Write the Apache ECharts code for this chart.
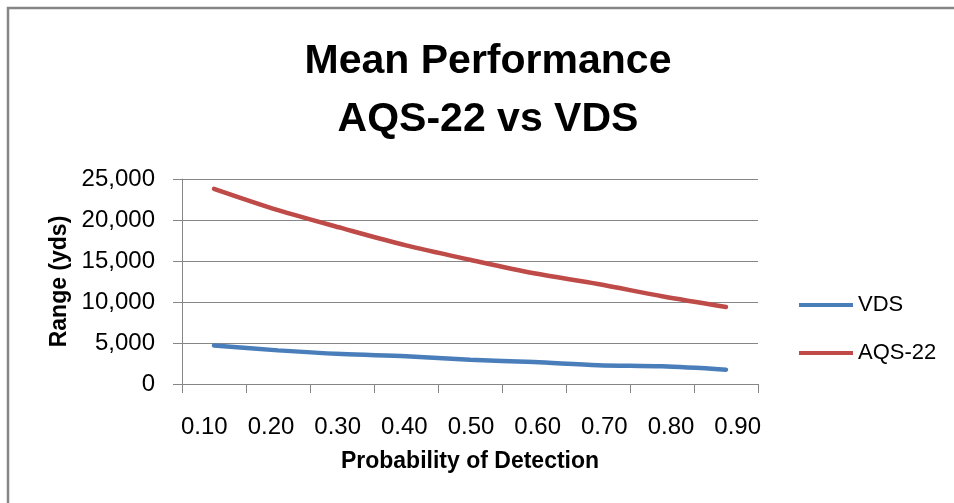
<!DOCTYPE html>
<html>
<head>
<meta charset="utf-8">
<script src="https://cdn.jsdelivr.net/npm/echarts@6/dist/echarts.min.js"></script>
<style>
html,body{margin:0;padding:0;background:#fff;}
#chart{width:954px;height:503px;}
</style>
</head>
<body>
<div id="chart"></div>
<script>
const categories = ['0.10','0.20','0.30','0.40','0.50','0.60','0.70','0.80','0.90'];
const vdsValues = [4700, 4100, 3650, 3370, 2960, 2680, 2300, 2150, 1750];
const aqsValues = [23800, 21200, 19000, 16900, 15150, 13500, 12200, 10700, 9400];
const yTicks = [0, 5000, 10000, 15000, 20000, 25000];
const titleLines = ['Mean Performance', 'AQS-22 vs VDS'];
const seriesNames = ['VDS', 'AQS-22'];

const FONT = 'Liberation Sans';
const AX = '#868686';
const chart = echarts.init(document.getElementById('chart'), null, {renderer: 'canvas'});
chart.setOption({
  animation: false,
  backgroundColor: '#fff',
  textStyle: {fontFamily: FONT},
  title: {
    text: titleLines.join('\n'),
    left: 488, top: 33, textAlign: 'center', padding: 0,
    textStyle: {fontFamily: FONT, fontWeight: 'bold', fontSize: 41, lineHeight: 58, color: '#000'}
  },
  graphic: [{
    type: 'polyline', silent: true,
    shape: {points: [[8, 503], [8, 8], [954, 8]]},
    style: {stroke: '#868686', lineWidth: 2.5, fill: null}
  }],
  legend: {
    orient: 'vertical', left: 794, top: 288,
    icon: 'rect', itemWidth: 54, itemHeight: 4, itemGap: 24,
    textStyle: {fontFamily: FONT, fontSize: 22, lineHeight: 24, color: '#000'},
    data: seriesNames
  },
  grid: [
    {left: 182, width: 576, top: 179, height: 205},
    {left: 171, width: 600, top: 179, height: 205}
  ],
  xAxis: [{
    type: 'category', gridIndex: 0, data: categories, boundaryGap: true,
    axisLine: {lineStyle: {color: AX, width: 1}},
    axisTick: {show: true, length: 9, interval: 0, lineStyle: {color: AX}},
    axisLabel: {show: false},
    name: 'Probability of Detection', nameLocation: 'middle', nameGap: 66,
    nameTextStyle: {fontFamily: FONT, fontWeight: 'bold', fontSize: 23, color: '#000'}
  }, {
    type: 'category', gridIndex: 1, data: categories, boundaryGap: true,
    axisLine: {show: false}, axisTick: {show: false},
    axisLabel: {show: true, interval: 0, margin: 31, fontFamily: FONT, fontSize: 24, color: '#000'}
  }],
  yAxis: [{
    type: 'value', gridIndex: 0, min: yTicks[0], max: yTicks[yTicks.length - 1], interval: 5000,
    axisLine: {show: true, lineStyle: {color: AX, width: 1}},
    axisTick: {show: true, length: 9, lineStyle: {color: AX}},
    splitLine: {show: true, lineStyle: {color: AX, width: 1}},
    axisLabel: {margin: 27, fontFamily: FONT, fontSize: 24, color: '#000',
      formatter: v => v.toLocaleString('en-US')},
    name: 'Range (yds)', nameLocation: 'middle', nameGap: 106,
    nameTextStyle: {fontFamily: FONT, fontWeight: 'bold', fontSize: 23, color: '#000'}
  }, {
    type: 'value', gridIndex: 1, show: false, min: 0, max: 25000
  }],
  series: [{
    name: seriesNames[0], type: 'line', xAxisIndex: 0, yAxisIndex: 0,
    data: vdsValues, smooth: 0.3, showSymbol: false, symbol: 'none',
    lineStyle: {color: '#4A7EBB', width: 4.5, cap: 'round'},
    itemStyle: {color: '#4A7EBB'}
  }, {
    name: seriesNames[1], type: 'line', xAxisIndex: 0, yAxisIndex: 0,
    data: aqsValues, smooth: 0.3, showSymbol: false, symbol: 'none',
    lineStyle: {color: '#BE4B48', width: 4.5, cap: 'round'},
    itemStyle: {color: '#BE4B48'}
  }]
});
</script>
</body>
</html>
